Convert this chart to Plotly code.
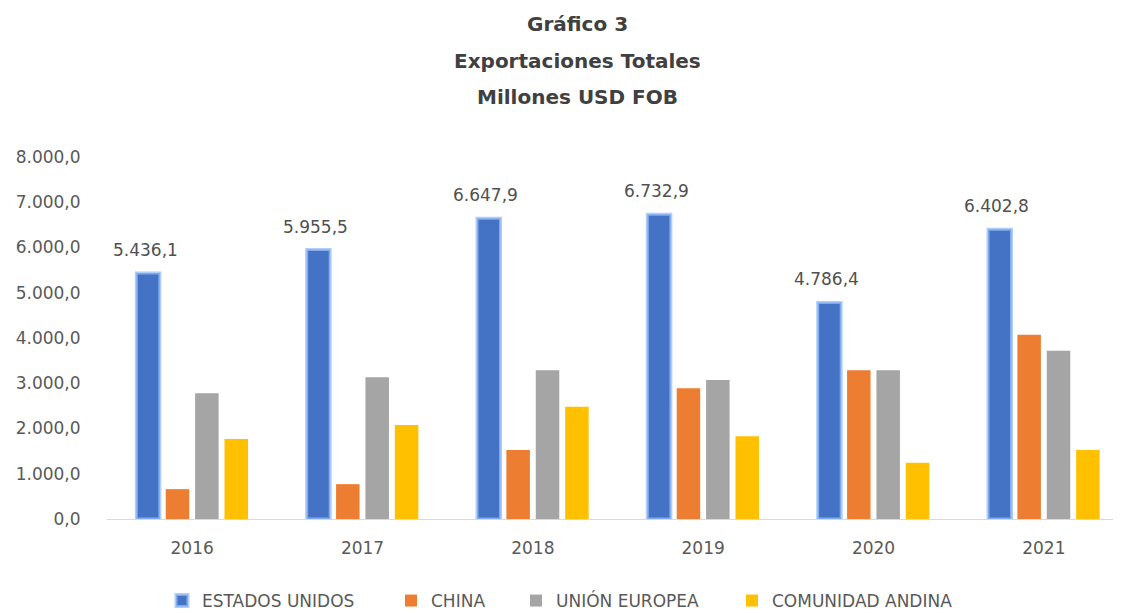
import plotly.graph_objects as go

years = ["2016", "2017", "2018", "2019", "2020", "2021"]
estados_unidos = [5436.1, 5955.5, 6647.9, 6732.9, 4786.4, 6402.8]
china = [660, 770, 1525, 2890, 3290, 4070]
union_europea = [2780, 3130, 3290, 3070, 3290, 3720]
comunidad_andina = [1770, 2080, 2480, 1830, 1245, 1525]

series_names = ["ESTADOS UNIDOS", "CHINA", "UNIÓN EUROPEA", "COMUNIDAD ANDINA"]
series_values = [estados_unidos, china, union_europea, comunidad_andina]
colors = ["#4472C4", "#ED7D31", "#A5A5A5", "#FFC000"]

# page offset (browser body margin) compensation
OFF = 8
W, H = 1121, 613
ML, MT = 107 - OFF, 157 - OFF
MR = 0
MB = H - (519 - OFF)
PW, PH = W - ML - MR, H - MT - MB
BARGAP, GROUPGAP = 0.31, 0.2

FONT = "DejaVu Sans"
TFONT = "DejaVu Sans"
TXT = "#595959"

fig = go.Figure()
for i, (name, vals, col) in enumerate(zip(series_names, series_values, colors)):
    line = dict(color="rgba(150,190,250,0.75)", width=3) if i == 0 else dict(width=0)
    fig.add_trace(go.Bar(x=years, y=vals, name=name, marker=dict(color=col, line=line),
                         legend="legend" if i == 0 else f"legend{i+1}"))

def fmt_es(v):
    return f"{v:,.1f}".replace(",", "X").replace(".", ",").replace("X", ".")

# data labels for ESTADOS UNIDOS (first bar of each group), placed by category index
slot_px = PW / len(years) * (1 - BARGAP) / len(series_names)
for idx, v in enumerate(estados_unidos):
    fig.add_annotation(x=idx, y=v, xref="x", yref="y", text=fmt_es(v),
                       showarrow=False, xshift=-1.5 * slot_px - 3, yshift=23, yanchor="middle",
                       font=dict(family=FONT, size=17, color="#505050"))

titles = ["Gráfico 3", "Exportaciones Totales", "Millones USD FOB"]
title_y_px = [24, 61, 97]
for t, ypx in zip(titles, title_y_px):
    fig.add_annotation(text=t, xref="paper", yref="paper", x=(577 - OFF - ML) / PW,
                       y=1 + (MT - (ypx - OFF)) / PH,
                       showarrow=False, font=dict(family=TFONT, size=20, color="#404040", weight="bold"),
                       xanchor="center", yanchor="middle")

legend_marker_px = [182, 411, 536, 752]
legend_common = dict(orientation="h", xref="container", yref="container", y=1 - (601 - OFF) / H, yanchor="middle",
                     xanchor="left", font=dict(family=FONT, size=17, color=TXT), itemwidth=30,
                     bgcolor="rgba(0,0,0,0)")
legends = {}
for i, px in enumerate(legend_marker_px):
    key = "legend" if i == 0 else f"legend{i+1}"
    legends[key] = dict(legend_common, x=(px - OFF - 20) / W)

fig.update_layout(
    width=W, height=H,
    margin=dict(l=ML, r=MR, t=MT, b=MB, autoexpand=False),
    paper_bgcolor="white", plot_bgcolor="white",
    separators=",.",
    barmode="group", bargap=BARGAP, bargroupgap=GROUPGAP,
    showlegend=True,
    font=dict(family=FONT, color=TXT),
    **legends,
)
fig.update_xaxes(type="category", range=[-0.5, len(years) - 0.5], showgrid=False, showline=True,
                 linecolor="#D9D9D9", linewidth=1, automargin=False,
                 ticks="outside", ticklen=14, tickcolor="rgba(0,0,0,0)",
                 tickfont=dict(family=FONT, size=17, color=TXT))
fig.update_yaxes(range=[0, 8000], dtick=1000, tickformat=",.1f", showgrid=False, zeroline=False, automargin=False,
                 showline=False, ticks="outside", ticklen=22, tickcolor="rgba(0,0,0,0)",
                 tickfont=dict(family=FONT, size=17, color=TXT))

fig.write_html("out.html")
